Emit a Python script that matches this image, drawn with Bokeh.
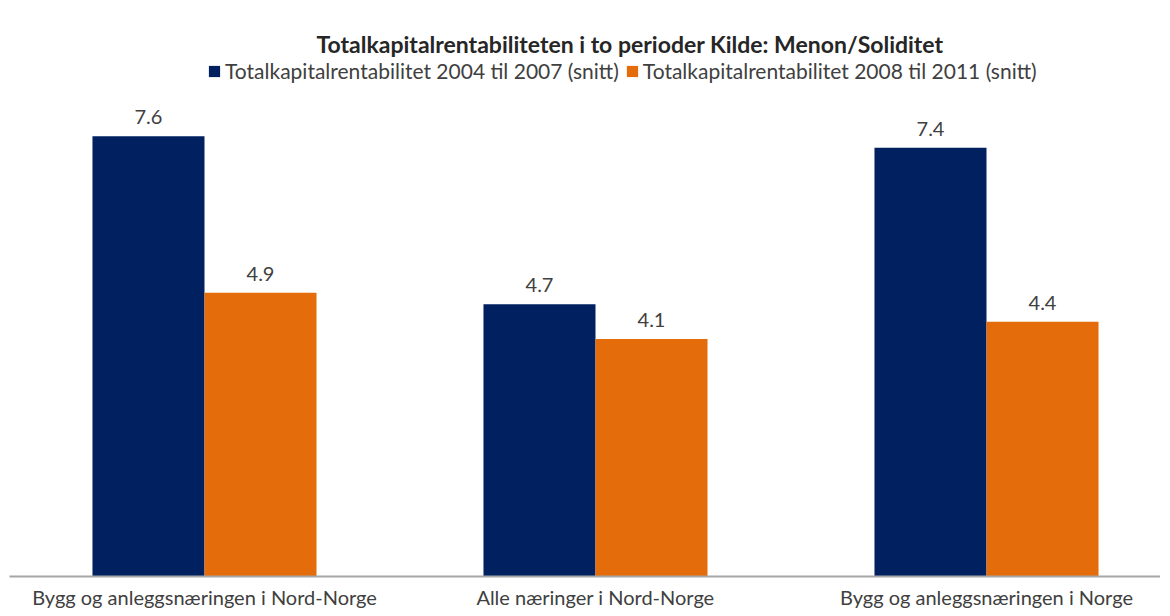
from bokeh.plotting import figure
from bokeh.models import ColumnDataSource, FixedTicker, Legend, LegendItem, Range1d
from bokeh.embed import file_html
from bokeh.resources import INLINE
from bokeh.core.properties import value

categories = ["Bygg og anleggsnæringen i Nord-Norge", "Alle næringer i Nord-Norge", "Bygg og anleggsnæringen i Norge"]
series_names = ["Totalkapitalrentabilitet 2004 til 2007 (snitt)", "Totalkapitalrentabilitet 2008 til 2011 (snitt)"]
values_2004_2007 = [7.6, 4.7, 7.4]
values_2008_2011 = [4.9, 4.1, 4.4]
colors = ["#002060", "#E46C0A"]

FONT = "Lato"
bar_w = 0.2865
idx = list(range(len(categories)))

p = figure(width=1160, height=611, output_backend="svg", toolbar_location=None,
           x_range=Range1d(-0.4987, 2.445), y_range=Range1d(0, 8.96),
           min_border_left=9, min_border_right=0, min_border_top=57, min_border_bottom=33)
p.title.text = "Totalkapitalrentabiliteten i to perioder Kilde: Menon/Soliditet"
p.title.align = "left"
p.title.offset = 307
p.title.standoff = 0
p.title.text_font = FONT
p.title.text_font_size = "23px"
p.title.text_font_style = "bold"
p.title.text_color = "#262626"

renderers = []
for vals, col, off in [(values_2004_2007, colors[0], -bar_w / 2), (values_2008_2011, colors[1], bar_w / 2)]:
    src = ColumnDataSource(dict(x=[i + off for i in idx], top=vals, lab=[f"{v:.1f}" for v in vals]))
    r = p.vbar(x="x", top="top", bottom=0, width=bar_w, source=src, fill_color=col, line_color=None)
    renderers.append(r)
    p.text(x="x", y="top", text="lab", source=src, text_align="center", text_baseline="bottom",
           y_offset=-12, text_font=value(FONT), text_font_size="20px", text_color="#404040")

legend = Legend(items=[LegendItem(label=series_names[0], renderers=[renderers[0]]),
                       LegendItem(label=series_names[1], renderers=[renderers[1]])],
                orientation="horizontal", location=(198, 493),
                label_text_font=FONT, label_text_font_size="21px", label_text_color="#404040",
                glyph_width=14, glyph_height=14, spacing=6, label_standoff=4,
                border_line_color=None, background_fill_alpha=0, padding=0, margin=0)
p.add_layout(legend)

p.xaxis.ticker = FixedTicker(ticks=idx)
p.xaxis.major_label_overrides = {i: c for i, c in zip(idx, categories)}
p.xaxis.major_tick_line_color = None
p.xaxis.minor_tick_line_color = None
p.xaxis.axis_line_color = "#A6A6A6"
p.xaxis.axis_line_width = 2
p.xaxis.major_label_text_font = FONT
p.xaxis.major_label_text_font_size = "20px"
p.xaxis.major_label_text_color = "#404040"
p.xaxis.major_label_standoff = 2
p.yaxis.visible = False
p.xgrid.visible = False
p.ygrid.visible = False
p.outline_line_color = None

open("out.html", "w").write(file_html(p, INLINE))
